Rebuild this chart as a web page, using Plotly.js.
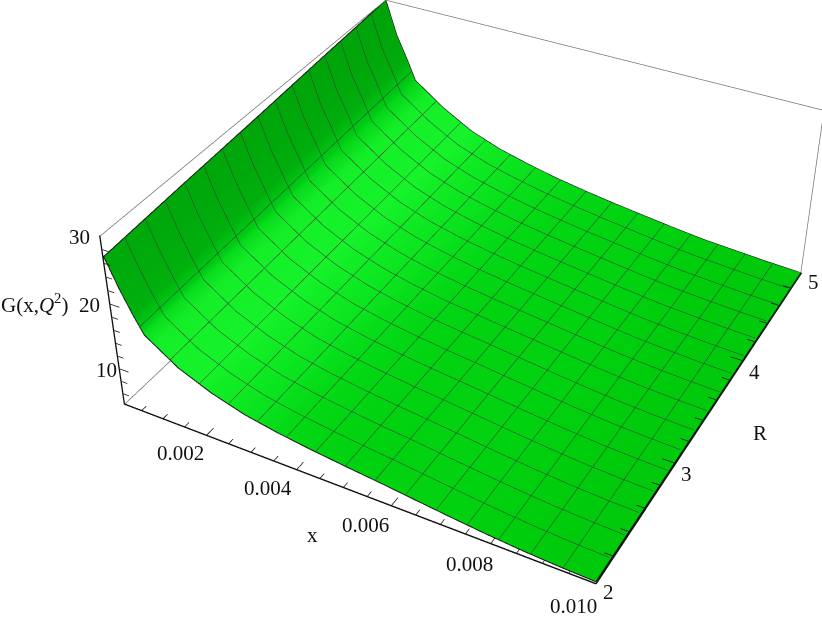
<!DOCTYPE html>
<html>
<head>
<meta charset="utf-8">
<script src="https://cdn.plot.ly/plotly-3.0.1.min.js"></script>
<style>
html,body{margin:0;padding:0;background:#fff;overflow:hidden}
#wrap{position:relative;width:822px;height:621px;overflow:hidden}
/* taller canvas than the window: gives the long lens of the reference */
#chart{position:absolute;left:0;top:-435px;width:822px;height:1491px}
</style>
</head>
<body>
<div id="wrap"><div id="chart"></div></div>
<script>
// values
const xVals = [0.0001,0.00035,0.0006,0.000807,0.00151,0.00222,0.00293,0.00364,0.00434,0.00505,0.00576,0.00646,0.00717,0.00788,0.00859,0.00929,0.01];
const rVals = [2,2.75,3.5,4.25,5];
const gR200 = [27,23,19.5,17,13.7,11.6,10.1,9.15,8.45,7.85,7.3,6.7,6.1,5.55,5.1,4.8,4.6];
const gR275 = [27.8,23.5,20,17.3,14,11.8,10.2,9.2,8.45,7.8,7.25,6.65,6.05,5.5,5.05,4.75,4.55];
const gR350 = [28.5,24,20.5,17.6,14.3,12,10.4,9.3,8.45,7.8,7.2,6.6,6,5.45,5,4.7,4.5];
const gR425 = [29.3,24.4,21,17.9,14.6,12.15,10.5,9.35,8.45,7.7,7.05,6.45,5.85,5.3,4.95,4.65,4.45];
const gR500 = [30,24.9,21.4,18.2,14.9,12.3,10.6,9.4,8.4,7.6,6.9,6.3,5.7,5.2,4.9,4.6,4.4];
const xTicks = [0.002,0.004,0.006,0.008,0.01];
const xTickText = ['0.002','0.004','0.006','0.008','0.010'];
const rTicks = [2,3,4,5];
const zTicks = [10,20,30];
const xLabelShift = [-26,-29,-26,-22,-22];
const zLabelShift = [-14,-21,-21];
const xMin = 0.0001, xMax = 0.01, rMin = 2, rMax = 5, zMin = 4.4, zMax = 30;
const aspectX = 2.523, aspectZ = 1;

const zGrid = [gR200,gR275,gR350,gR425,gR500];
const last = xVals.length-1;

// shade by local slope along x (angle in degrees), instead of the gl lighting
const shadeStops = [[0,'rgb(0,198,10)'],[5,'rgb(0,205,12)'],[9,'rgb(3,215,20)'],[14,'rgb(10,228,30)'],[25,'rgb(22,243,42)'],[40,'rgb(20,238,40)'],[50,'rgb(0,205,20)'],[60,'rgb(0,185,15)'],[70,'rgb(0,165,10)'],[80,'rgb(0,160,10)']];
const shadeScale = shadeStops.map(s=>[s[0]/80,s[1]]);
const shade = zGrid.map(row=>row.map((v,i)=>{
  const a = Math.max(i-1,0), b = Math.min(i+1,last);
  const dz = (row[a]-row[b])/(zMax-zMin)*aspectZ;
  const dx = (xVals[b]-xVals[a])/(xMax-xMin)*aspectX;
  return Math.atan2(dz,dx)*180/Math.PI;
}));

function edge(xs,ys,zs,color,width){
  return {type:'scatter3d',mode:'lines',x:xs,y:ys,z:zs,line:{color:color,width:width},showlegend:false,hoverinfo:'skip'};
}

// tick marks point into the box, every 5th (x: 4th) one longer
const tx=[],ty=[],tz=[];
function tick(x0,y0,z0,x1,y1,z1){ tx.push(x0,x1,null); ty.push(y0,y1,null); tz.push(z0,z1,null); }
for(let i=1;i<=19;i++){ const t=i*0.0005; tick(t,rMin,zMin,t,rMin+(i%4==0?0.065:0.04),zMin); }
for(let i=1;i<=14;i++){ const t=2+i*0.2; tick(xMax,t,zMin+0.35,xMax-(i%5==0?0.00023:0.00015),t,zMin+0.35); }
for(let t=6;t<=28;t+=2){ tick(xMin,rMin,t,xMin+(t%10==0?0.0002:0.000125),rMin,t); }

const traces = [
{
  type:'surface',x:xVals,y:rVals,z:zGrid,surfacecolor:shade,cmin:0,cmax:80,colorscale:shadeScale,showscale:false,hoverinfo:'skip',
  lighting:{ambient:1,diffuse:0,specular:0,roughness:1,fresnel:0},
  contours:{
    x:{show:true,start:xMin+(xMax-xMin)/16,end:xMax-0.0001,size:(xMax-xMin)/16,color:'#383838',width:2},
    y:{show:true,start:rMin+3/16,end:rMax-0.01,size:3/16,color:'#383838',width:2},
    z:{show:false}
  }
},
// surface outline
edge(xVals,xVals.map(()=>rMin),gR200,'#111',2),
edge(xVals,xVals.map(()=>rMax),gR500,'#111',2),
edge(rVals.map(()=>xMin),rVals,zGrid.map(r=>r[0]),'#111',2),
edge(rVals.map(()=>xMax),rVals,zGrid.map(r=>r[last]),'#111',2),
// back edges of the box
edge([xMin,xMin],[rMin,rMax],[zMin,zMin],'#777',1.5),
edge([xMin,xMax],[rMax,rMax],[zMin,zMin],'#777',1.5),
edge([xMin,xMin],[rMax,rMax],[zMin,zMax],'#777',1.5),
edge([xMin,xMin],[rMin,rMax],[zMax,zMax],'#777',1.5),
edge([xMin,xMax],[rMax,rMax],[zMax,zMax],'#777',1.5),
edge([xMax,xMax],[rMax,rMax],[zMin,zMax],'#777',1.5),
edge(tx,ty,tz,'#111',1.5)
];

const labelFont = {family:'"Liberation Serif", serif',size:21,color:'#111'};
function lab(x,y,z,text,dx,dy){
  return {x:x,y:y,z:z,text:text,showarrow:false,xshift:dx,yshift:dy,font:labelFont};
}
const sceneNotes = [];
xTicks.forEach((t,i)=>sceneNotes.push(lab(t,rMin,zMin,xTickText[i],xLabelShift[i],i==4?-23:-18-i)));
rTicks.forEach(t=>sceneNotes.push(lab(xMax,t,zMin,String(t),13,-9)));
zTicks.forEach((t,i)=>sceneNotes.push(lab(xMin,rMin,t,String(t),zLabelShift[i],-1)));

// range a hair wider than the box so lines on the edge are not clipped
function axis(lo,hi){
  const pad=(hi-lo)*0.001;
  return {range:[lo-pad,hi+pad],ticks:'',showticklabels:false,showgrid:false,zeroline:false,showbackground:false,showspikes:false,
    showline:true,linecolor:'#111',linewidth:3,title:{text:''}};
}

function py(v){ return 1-(v+435)/1491; }
function title(px,pyVal,text){
  return {xref:'paper',yref:'paper',x:px/822,y:py(pyVal),xanchor:'center',yanchor:'middle',text:text,showarrow:false,font:labelFont};
}

const layout = {
  width:822,height:1491,margin:{l:0,r:0,t:0,b:0},paper_bgcolor:'#fff',showlegend:false,
  scene:{
    domain:{x:[0,1],y:[0,1]},
    xaxis:axis(xMin,xMax),
    yaxis:axis(rMin,rMax),
    zaxis:axis(zMin,zMax),
    aspectmode:'manual',
    aspectratio:{x:aspectX,y:2.589,z:aspectZ},
    camera:{eye:{x:3.335,y:-6.409,z:5.150},center:{x:-0.226,y:-0.277,z:-0.235},up:{x:-0.034,y:0.092,z:1},projection:{type:'perspective'}},
    annotations:sceneNotes
  },
  annotations:[
    title(312,535,'x'),
    title(760,433,'R'),
    title(34,303,'G(x,<i>Q</i><sup>2</sup>)')
  ]
};

Plotly.newPlot('chart',traces,layout,{displayModeBar:false});
</script>
</body>
</html>
